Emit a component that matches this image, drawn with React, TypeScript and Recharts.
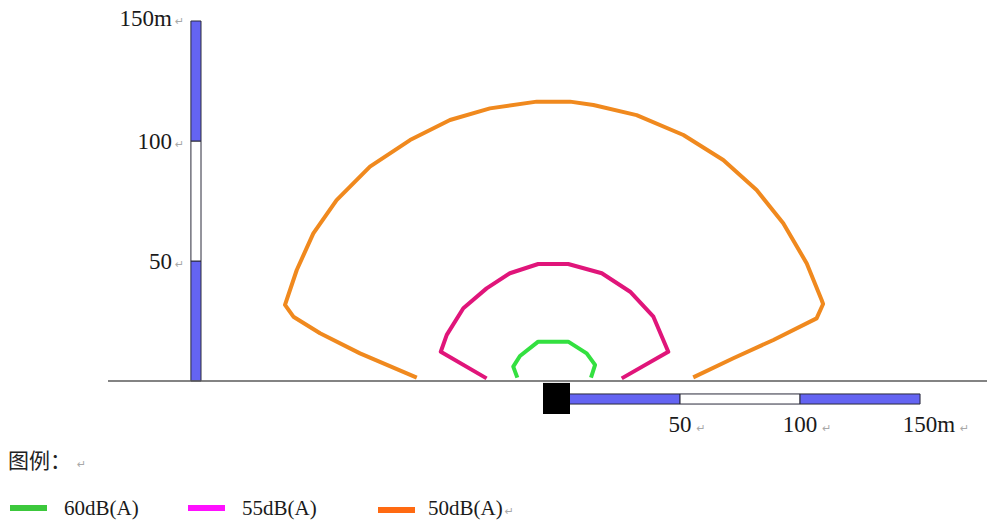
import React from 'react';
import { ComposedChart, Line, XAxis, YAxis, ReferenceLine, ReferenceArea, ReferenceDot } from 'recharts';

// contour points: x = metres along the road from the source, y = metres away from the road
const contour60X = [-15.7, -17.4, -14.6, -7.0, 5.5, 13.2, 16.7, 15.0];
const contour60Y = [1.4, 6.0, 10.4, 16.4, 16.4, 11.5, 6.7, 1.4];

const contour55X = [-28.5, -47.6, -45.1, -38.2, -28.5, -18.8, -7.0, 5.5, 19.5, 31.3, 41.0, 47.2, 27.8];
const contour55Y = [1.1, 12.2, 19.2, 30.3, 38.6, 44.9, 48.75, 48.75, 44.9, 37.2, 26.8, 12.2, 1.1];

const contour50X = [
  -57.6, -81.25, -97.9, -109.0, -112.5, -107.6, -100.7, -91.0, -77.1, -60.4, -43.75, -27.1, -7.6,
  6.25, 16.0, 34.0, 53.5, 70.1, 84.0, 95.1, 104.9, 111.1, 111.7, 109.0, 91.0, 74.3, 57.6,
];
const contour50Y = [
  1.4, 11.5, 19.9, 26.8, 31.7, 46.25, 61.5, 75.4, 89.3, 100.4, 108.75, 113.6, 116.4,
  116.4, 115.0, 110.8, 102.5, 92.1, 79.6, 65.7, 49.0, 33.75, 32.1, 26.1, 17.1, 9.5, 1.5,
];

const scaleTicks = [0, 50, 100, 150];
const verticalLabels = ['', '50', '100', '150m'];
const horizontalLabels = ['', '50', '100', '150m'];

const legendNames = ['60dB(A)', '55dB(A)', '50dB(A)'];
const lineColors = ['#33e040', '#e0157a', '#f0891e'];
const legendColors = ['#3cc83c', '#ff10ff', '#ff6a12'];

const zip = (xs: number[], ys: number[]) => xs.map((x, i) => ({ x, y: ys[i] }));
const contours = [zip(contour60X, contour60Y), zip(contour55X, contour55Y), zip(contour50X, contour50Y)];

// layout (metres, 2.4 px per metre)
const X_DOMAIN: [number, number] = [-231.25, 180];
const Y_DOMAIN: [number, number] = [-60.83, 158.75];
const VBAR_X: [number, number] = [-151.7, -147.5];
const HBAR_X0 = 2.1;
const HBAR_Y: [number, number] = [-5.4, -9.6];
const barFills = ['#6464f2', '#ffffff', '#6464f2'];

const serif = '"Liberation Serif", "Times New Roman", serif';
const markColor = '#a8a8a8';

export default function App() {
  return (
    <div style={{ position: 'relative', width: 987, height: 527, background: '#fff', overflow: 'hidden' }}>
      <style>{'body{margin:0;}'}</style>
      <ComposedChart
        width={987}
        height={527}
        margin={{ top: 0, right: 0, bottom: 0, left: 0 }}
        style={{ position: 'absolute', left: 0, top: 0 }}
      >
        <XAxis type="number" dataKey="x" domain={X_DOMAIN} hide allowDataOverflow />
        <YAxis type="number" dataKey="y" domain={Y_DOMAIN} hide allowDataOverflow />

        <ReferenceLine
          segment={[{ x: -186.25, y: 0 }, { x: 180, y: 0 }]}
          stroke="#5a5a5a"
          strokeWidth={1.6}
          ifOverflow="visible"
        />

        {/* vertical scale bar */}
        {scaleTicks.slice(1).map((t, i) => (
          <ReferenceArea
            key={'v' + t}
            x1={VBAR_X[0]}
            x2={VBAR_X[1]}
            y1={scaleTicks[i]}
            y2={t}
            fill={barFills[i]}
            fillOpacity={1}
            stroke="#2a2a3a"
            strokeWidth={1}
            ifOverflow="visible"
          />
        ))}

        {/* horizontal scale bar */}
        {scaleTicks.slice(1).map((t, i) => (
          <ReferenceArea
            key={'h' + t}
            x1={HBAR_X0 + scaleTicks[i]}
            x2={HBAR_X0 + t}
            y1={HBAR_Y[0]}
            y2={HBAR_Y[1]}
            fill={barFills[i]}
            fillOpacity={1}
            stroke="#2a2a3a"
            strokeWidth={1}
            ifOverflow="visible"
          />
        ))}

        {/* noise source */}
        <ReferenceArea x1={-5} x2={6.25} y1={-0.8} y2={-13.75} fill="#000" fillOpacity={1} ifOverflow="visible" />

        {contours.map((d, i) => (
          <Line
            key={legendNames[i]}
            data={d}
            dataKey="y"
            type="linear"
            stroke={lineColors[i]}
            strokeWidth={4}
            strokeLinejoin="round"
            dot={false}
            activeDot={false}
            isAnimationActive={false}
          />
        ))}

        {scaleTicks.map((t, i) =>
          verticalLabels[i] ? (
            <ReferenceDot
              key={'vl' + t}
              x={VBAR_X[0]}
              y={t}
              r={0}
              ifOverflow="visible"
              shape={(p: any) => (
                <g>
                  <text
                    x={p.cx - 19}
                    y={p.cy + (t === 150 ? 5 : 8)}
                    textAnchor="end"
                    fontFamily={serif}
                    fontSize={23}
                    fill="#1a1a1a"
                  >
                    {verticalLabels[i]}
                  </text>
                  <text x={p.cx - 16} y={p.cy + (t === 150 ? 4 : 7)} fontSize={11} fill={markColor} fontFamily="DejaVu Sans">
                    ↵
                  </text>
                </g>
              )}
            />
          ) : null
        )}

        {scaleTicks.map((t, i) =>
          horizontalLabels[i] ? (
            <ReferenceDot
              key={'hl' + t}
              x={HBAR_X0 + t}
              y={HBAR_Y[1]}
              r={0}
              ifOverflow="visible"
              shape={(p: any) => (
                <text
                  x={p.cx - String(t).length * 5.8}
                  y={p.cy + 28}
                  fontFamily={serif}
                  fontSize={23}
                  fill="#1a1a1a"
                >
                  {horizontalLabels[i]}
                  <tspan dx={5} fontSize={11} fill={markColor} fontFamily="DejaVu Sans">↵</tspan>
                </text>
              )}
            />
          ) : null
        )}
      </ComposedChart>

      <div
        style={{
          position: 'absolute',
          left: 8,
          top: 445,
          fontFamily: '"Noto Sans CJK SC", sans-serif',
          fontSize: 21,
          lineHeight: '28px',
          color: '#222',
        }}
      >
        图例：<span style={{ fontSize: 11, color: markColor, marginLeft: 6, fontFamily: 'DejaVu Sans' }}>↵</span>
      </div>

      {legendNames.map((name, i) => (
        <div
          key={name}
          style={{
            position: 'absolute',
            left: [10, 188, 378][i],
            top: 494,
            display: 'flex',
            alignItems: 'center',
            fontFamily: serif,
            fontSize: 21,
            lineHeight: '28px',
            color: '#1a1a1a',
            whiteSpace: 'nowrap',
          }}
        >
          <span style={{ display: 'inline-block', width: 37, height: 6, background: legendColors[i] }} />
          <span style={{ marginLeft: [17, 17, 13][i] }}>
            {name}
            {i === 2 ? <span style={{ fontSize: 11, color: markColor, marginLeft: 2, fontFamily: 'DejaVu Sans' }}>↵</span> : null}
          </span>
        </div>
      ))}
    </div>
  );
}
